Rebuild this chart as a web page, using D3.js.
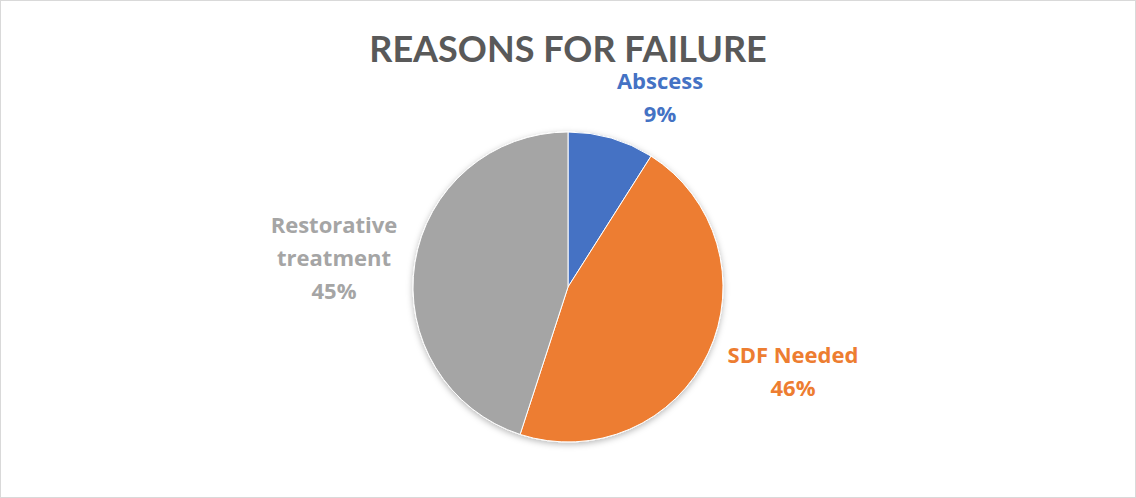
<!DOCTYPE html>
<html>
<head>
<meta charset="utf-8">
<script src="https://cdn.jsdelivr.net/npm/d3@7"></script>
<style>
  html, body { margin: 0; padding: 0; background: #fff; }
  svg { display: block; }
</style>
</head>
<body>
<svg id="chart" width="1136" height="498"></svg>
<script>
// Reasons for failure: share of each reason
const categories = ["Abscess", "SDF Needed", "Restorative treatment"];
const values = [9, 46, 45];
const colors = ["#4472C4", "#ED7D31", "#A5A5A5"];
// Label text lines and anchor positions (centre of the text block)
const labelLines = [["Abscess"], ["SDF Needed"], ["Restorative", "treatment"]];
const labelPos = [[660, 98], [793, 372], [334, 259]];

const W = 1136, H = 498;
const svg = d3.select("#chart");
const titleFont = "Lato, 'Open Sans', sans-serif";
const labelFont = "'Open Sans', Lato, sans-serif";

// Soft shadow under the pie
const defs = svg.append("defs");
const f = defs.append("filter").attr("id", "pieShadow")
  .attr("x", "-20%").attr("y", "-20%").attr("width", "140%").attr("height", "140%");
f.append("feDropShadow")
  .attr("dx", 0).attr("dy", 2).attr("stdDeviation", 3)
  .attr("flood-color", "#000").attr("flood-opacity", 0.28);

// Frame
svg.append("rect")
  .attr("x", 0.5).attr("y", 0.5)
  .attr("width", W - 1).attr("height", H - 1)
  .attr("fill", "#fff").attr("stroke", "#d9d9d9").attr("stroke-width", 1);

// Title
svg.append("text")
  .attr("x", 568).attr("y", 62)
  .attr("text-anchor", "middle")
  .attr("font-family", titleFont)
  .attr("font-weight", 700)
  .attr("font-size", 36)
  .attr("fill", "#595959")
  .text("REASONS FOR FAILURE");

// Pie
const cx = 568, cy = 287, r = 155;
const pie = d3.pie().sort(null).value(d => d)(values);
const arc = d3.arc().innerRadius(0).outerRadius(r);

const g = svg.append("g")
  .attr("transform", `translate(${cx},${cy})`)
  .attr("filter", "url(#pieShadow)");
g.selectAll("path")
  .data(pie)
  .join("path")
  .attr("d", arc)
  .attr("fill", (d, i) => colors[i])
  .attr("stroke", "#fff")
  .attr("stroke-width", 1);

// Data labels: category name + percentage
const total = d3.sum(values);
const lineH = 33;
categories.forEach((c, i) => {
  const lines = labelLines[i].concat([Math.round(values[i] / total * 100) + "%"]);
  const n = lines.length;
  const t = svg.append("text")
    .attr("text-anchor", "middle")
    .attr("font-family", labelFont)
    .attr("font-weight", 700)
    .attr("font-size", 22)
    .attr("fill", colors[i]);
  lines.forEach((s, k) => {
    t.append("tspan")
      .attr("x", labelPos[i][0])
      .attr("y", labelPos[i][1] + (k - (n - 1) / 2) * lineH + 7)
      .text(s);
  });
});
</script>
</body>
</html>
